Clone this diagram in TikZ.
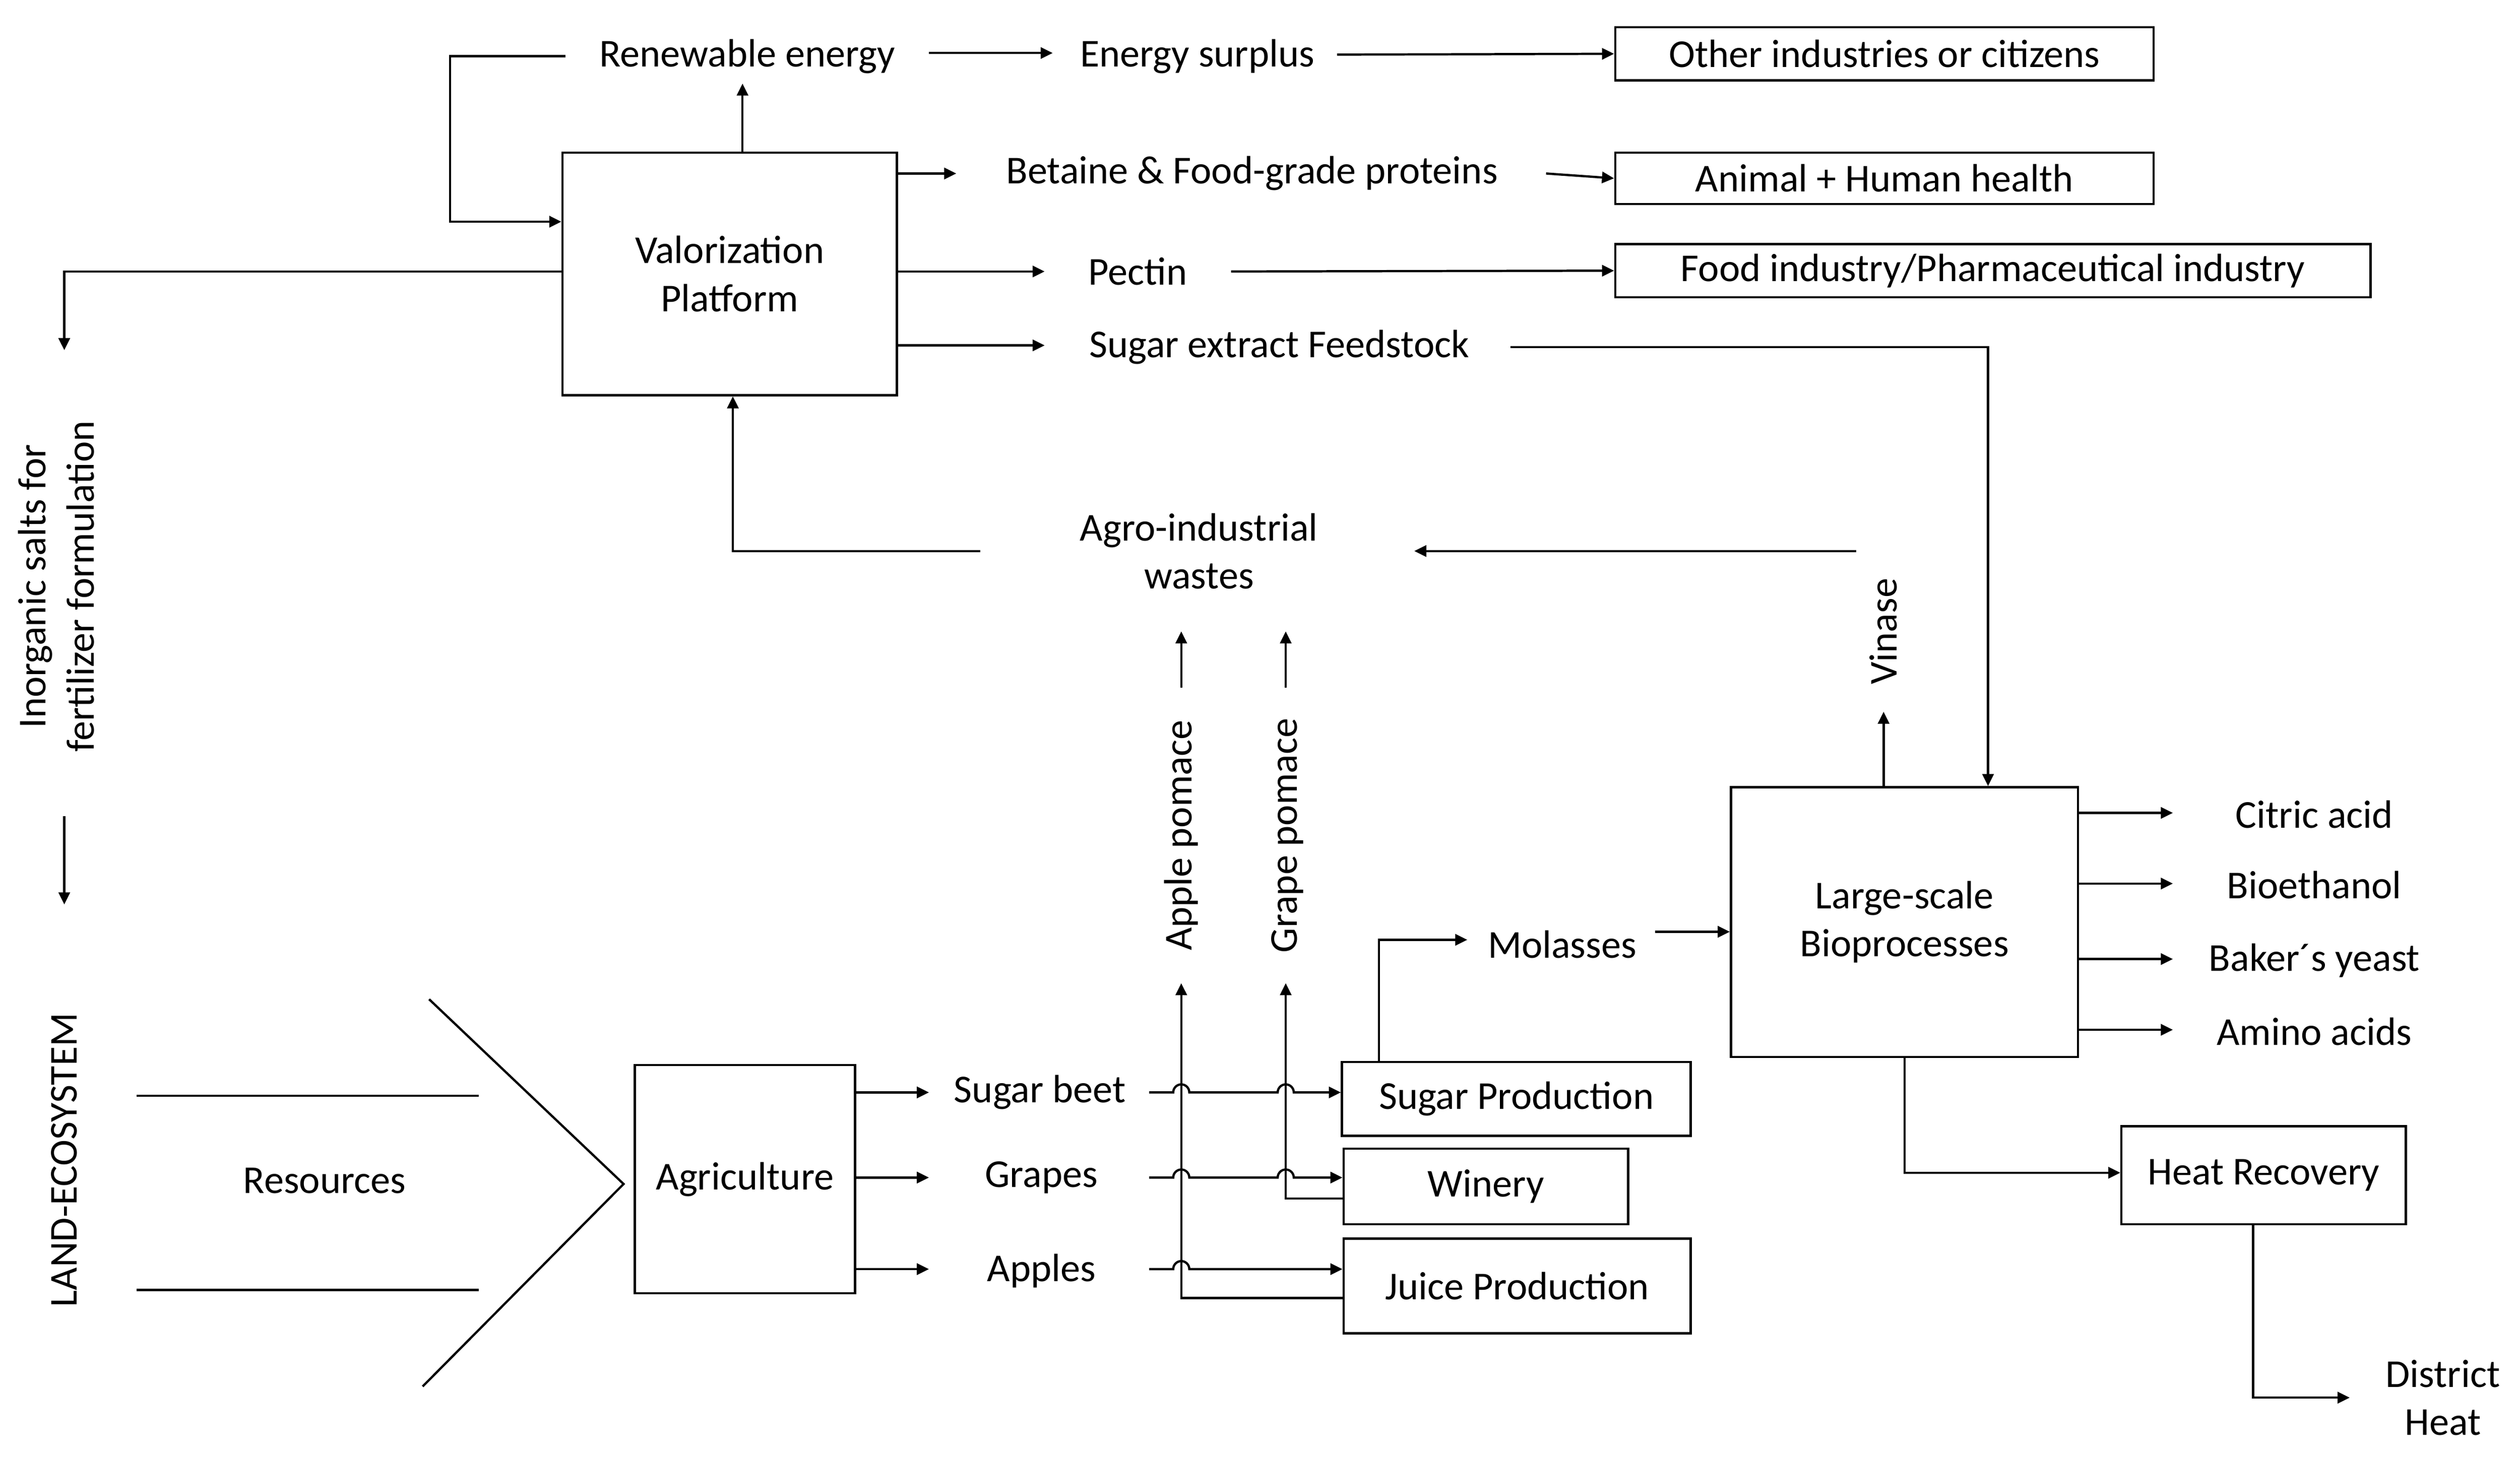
\documentclass[tikz,border=0pt]{standalone}
\usepackage{fontspec}
\setmainfont{Carlito}
\usetikzlibrary{arrows.meta}
\begin{document}
\begin{tikzpicture}[x=0.02cm,y=-0.02cm,line width=0.8pt,
  every node/.style={font=\fontsize{14}{17}\selectfont,align=center,inner sep=1pt},
  box/.style={draw,line width=0.8pt,inner sep=0pt},
  arr/.style={-{Triangle[length=1.5mm,width=1.4mm]}},
  hop/.style={}]
\useasboundingbox (0,0) rectangle (1568,908);
% boxes
\node[box,minimum width=208*0.02cm,minimum height=151*0.02cm] (vp) at (454,170.5) {Valorization\\Platform};
\node[box,minimum width=335*0.02cm,minimum height=33*0.02cm] (oi) at (1172.5,33.5) {Other industries or citizens};
\node[box,minimum width=335*0.02cm,minimum height=32*0.02cm] (ah) at (1172.5,111) {Animal + Human health};
\node[box,minimum width=470*0.02cm,minimum height=33*0.02cm] (fi) at (1240,168.5) {Food industry/Pharmaceutical industry};
\node[box,minimum width=216*0.02cm,minimum height=168*0.02cm] (lb) at (1185,574) {Large-scale\\Bioprocesses};
\node[box,minimum width=137*0.02cm,minimum height=142*0.02cm] (ag) at (463.5,734) {Agriculture};
\node[box,minimum width=217*0.02cm,minimum height=46*0.02cm] (sp) at (943.5,684) {Sugar Production};
\node[box,minimum width=177*0.02cm,minimum height=47*0.02cm] (wi) at (924.5,738.5) {Winery};
\node[box,minimum width=216*0.02cm,minimum height=59*0.02cm] (jp) at (944,800.5) {Juice Production};
\node[box,minimum width=177*0.02cm,minimum height=61*0.02cm] (hr) at (1408.5,731.5) {Heat Recovery};
% texts
\node (re) at (465,35) {Renewable energy};
\node (es) at (745,35) {Energy surplus};
\node (bf) at (779,108) {Betaine \& Food-grade proteins};
\node (pe) at (708,169) {Pectin};
\node (se) at (796,216) {Sugar extract Feedstock};
\node (aw) at (746,343) {Agro-industrial\\wastes};
\node (ap) at (735,520) [rotate=90] {Apple pomace};
\node (gp) at (801,520) [rotate=90] {Grape pomace};
\node (vi) at (1172,393) [rotate=90] {Vinase};
\node (mo) at (972,588) {Molasses};
\node (sb) at (647,680) {Sugar beet};
\node (gr) at (648,733) {Grapes};
\node (al) at (648,791) {Apples};
\node (rs) at (202,735) {Resources};
\node (in) at (35,365) [rotate=90] {Inorganic salts for\\fertilizer formulation};
\node (le) at (40,722) [rotate=90] {LAND-ECOSYSTEM};
\node (ca) at (1440,507) {Citric acid};
\node (be) at (1440,551) {Bioethanol};
\node (by) at (1440,598) {Baker´s yeast};
\node (aa) at (1440,642) {Amino acids};
\node (dh) at (1520,870) {District\\Heat};
\coordinate (r1) at (388,737);
% top connectors
\draw[arr] (vp.north -| 462,0) -- (462,52);
\draw[arr] (352,35) -- (280,35) -- (280,138) -- (vp.west |- 0,138);
\draw[arr] (578,33) -- (655,33);
\draw[arr] (832,34) -- (oi.west);
\draw[arr] (vp.east |- 0,108) -- (595,108);
\draw[arr] (962,108) -- (ah.west);
\draw[arr] (vp.east |- 0,169) -- (650,169);
\draw[arr] (766,169) -- (fi.west);
\draw[arr] (vp.east |- 0,215) -- (650,215);
\draw[arr] (940,216) -- (1237,216) -- (lb.north -| 1237,0);
\draw[arr] (vp.west |- 0,169) -- (40,169) -- (40,218);
\draw[arr] (40,508) -- (40,563);
% wastes
\draw[arr] (610,343) -- (456,343) -- (vp.south -| 456,0);
\draw[arr] (1155,343) -- (880,343);
\draw[arr] (735,428) -- (735,393);
\draw[arr] (800,428) -- (800,393);
\draw[arr] (lb.north -| 1172,0) -- (1172,443);
% resources
\draw (85,682) -- (298,682);
\draw (85,803) -- (298,803);
\draw (267,622) -- (r1) -- (263,863);
% agriculture outputs
\draw[arr] (ag.east |- 0,680) -- (578,680);
\draw[arr] (ag.east |- 0,733) -- (578,733);
\draw[arr] (ag.east |- 0,790) -- (578,790);
\draw[arr] (715,680) -- (730,680) arc[start angle=180,end angle=360,radius=5]
  -- (795,680) arc[start angle=180,end angle=360,radius=5] -- (sp.west |- 0,680);
\draw[arr] (715,733) -- (730,733) arc[start angle=180,end angle=360,radius=5]
  -- (795,733) arc[start angle=180,end angle=360,radius=5] -- (wi.west |- 0,733);
\draw[arr] (715,790) -- (730,790) arc[start angle=180,end angle=360,radius=5] -- (jp.west |- 0,790);
% pomace
\draw[arr] (wi.west |- 0,746) -- (800,746) -- (800,612);
\draw[arr] (jp.west |- 0,808) -- (735,808) -- (735,612);
% molasses
\draw[arr] (sp.north -| 858,0) -- (858,585) -- (913,585);
\draw[arr] (1030,580) -- (lb.west |- 0,580);
% bioprocess outputs
\draw[arr] (lb.east |- 0,506) -- (1352,506);
\draw[arr] (lb.east |- 0,550) -- (1352,550);
\draw[arr] (lb.east |- 0,597) -- (1352,597);
\draw[arr] (lb.east |- 0,641) -- (1352,641);
\draw[arr] (lb.south -| 1185,0) -- (1185,730) -- (hr.west |- 0,730);
\draw[arr] (hr.south -| 1402,0) -- (1402,870) -- (1462,870);
\end{tikzpicture}
\end{document}
